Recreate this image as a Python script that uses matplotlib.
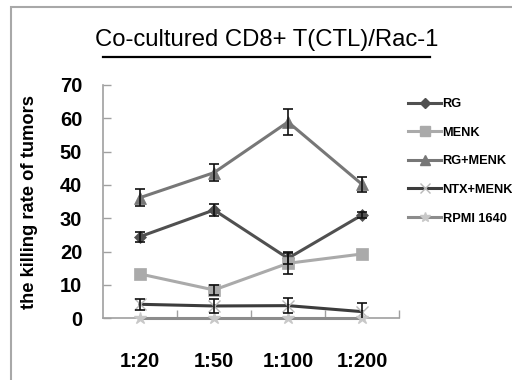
import matplotlib
matplotlib.use("Agg")
import matplotlib.pyplot as plt
import numpy as np
from matplotlib.lines import Line2D
from matplotlib.patches import Rectangle

categories = ["1:20", "1:50", "1:100", "1:200"]
series_names = ["RG", "MENK", "RG+MENK", "NTX+MENK", "RPMI 1640"]
rg = [24.5, 32.5, 18.0, 31.0]
rg_err = [1.5, 1.7, 1.8, 1.0]
menk = [13.3, 8.5, 16.5, 19.3]
menk_err = [0, 1.5, 3.2, 0]
rg_menk = [36.2, 43.7, 58.9, 40.2]
rg_menk_err = [2.5, 2.5, 3.8, 2.3]
ntx_menk = [4.2, 3.7, 3.8, 2.0]
ntx_menk_err = [1.7, 2.0, 2.2, 2.7]
rpmi = [0, 0, 0, 0]

title = "Co-cultured CD8+ T(CTL)/Rac-1"
ylabel = "the killing rate of tumors"
yticks = [0, 10, 20, 30, 40, 50, 60, 70]

W, H = 512, 380
fig = plt.figure(figsize=(W / 100, H / 100), dpi=100)
fig.patch.set_facecolor("white")
ax = fig.add_axes([103 / W, 1 - 318.3 / H, 296 / W, (318.3 - 85) / H])

x = np.arange(len(categories))
styles = [
    (rg, rg_err, "#505050", "D", 6, "#505050"),
    (menk, menk_err, "#aaaaaa", "s", 9, "#aaaaaa"),
    (rg_menk, rg_menk_err, "#777777", "^", 9, "#777777"),
    (ntx_menk, ntx_menk_err, "#3c3c3c", "x", 9, "#b8b8b8"),
    (rpmi, None, "#8c8c8c", "*", 9, "#c8c8c8"),
]
handles = []
for (vals, err, col, mk, ms, mcol), name in zip(styles, series_names):
    ax.plot(x, vals, color=col, lw=2.2, marker=mk, ms=ms, mfc=mcol, mec=mcol,
            mew=1.0 if mk in "x*" else 0.5, zorder=3, clip_on=False)
    if err is not None:
        e = np.array(err, dtype=float)
        v = np.array(vals, dtype=float)
        m = e > 0
        ax.errorbar(x[m], v[m], yerr=e[m], fmt="none", ecolor="#111111", elinewidth=1.2,
                    capsize=3.5, capthick=1.2, zorder=4)
    handles.append(Line2D([0], [0], color=col, lw=2.2, marker=mk, ms=ms * 0.8,
                          mfc=mcol, mec=mcol, label=name))

ax.set_xlim(-0.5, 3.5)
ax.set_ylim(0, 70)
ax.set_yticks(yticks)
ax.set_yticklabels([str(v) for v in yticks], fontsize=14.5, fontweight="bold",
                   family="Liberation Sans")
ax.set_xticks(x)
ax.set_xticklabels(categories, fontsize=14.5, fontweight="bold", family="Liberation Sans")
ax.set_xticks([0.5, 1.5, 2.5, 3.5], minor=True)
ax.tick_params(axis="x", which="major", length=0, pad=24)
ax.tick_params(axis="x", which="minor", direction="in", length=6, color="#a0a0a0", width=1)
ax.tick_params(axis="y", direction="in", length=6, color="#a0a0a0", width=1, pad=15)
for s in ["top", "right"]:
    ax.spines[s].set_visible(False)
for s in ["left", "bottom"]:
    ax.spines[s].set_color("#a0a0a0")
    ax.spines[s].set_linewidth(1.2)

ax.set_ylabel(ylabel, fontsize=13.2, fontweight="bold", family="Liberation Sans")
ax.yaxis.set_label_coords((38 - 103) / 296, 0.5)

leg = fig.legend(handles=handles, loc="upper left", bbox_to_anchor=(403 / W, 1 - 93 / H),
                 frameon=False, prop={"family": "Liberation Sans", "weight": "bold", "size": 9.2},
                 handlelength=2.6, handletextpad=0.1, labelspacing=1.3, borderaxespad=0)

fig.text(267 / W, 1 - 40 / H, title, ha="center", va="center", fontsize=17.2,
         family="Liberation Sans")
fig.add_artist(Line2D([103 / W, 430 / W], [1 - 57 / H, 1 - 57 / H], color="black", lw=1.6))
fig.add_artist(Rectangle((11 / W, -0.1), 1.2, 1 - 7 / H + 0.1, fill=False,
                         edgecolor="#a8a8a8", lw=1.5))

fig.savefig("out.png", dpi=100, facecolor="white")
